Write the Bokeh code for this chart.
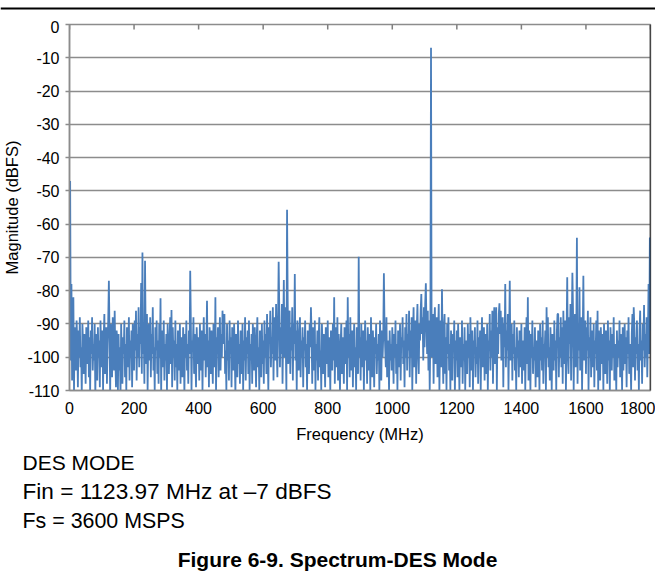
from math import pi
from bokeh.plotting import figure
from bokeh.layouts import column
from bokeh.models import (Range1d, FixedTicker, Span, ColumnDataSource, PrintfTickFormatter)
from bokeh.core.properties import value
from bokeh.embed import file_html
from bokeh.resources import INLINE

# ---------------- data ----------------
bin_step_mhz = 2  # spacing of the plotted FFT bins

# noise floor, 0 .. 448 MHz
noise_a = [
    -96, -84, -101, -90, -107, -93, -99, -110, -91, -98, -104, -89, -95, -109, -92, -100, -88, -103, -97, -111, -90, -96, -105, -93, -99,
    -108, -91, -97, -102, -89, -106, -94, -110, -92, -99, -88, -104, -96, -101, -90, -112, -93, -98, -107, -91, -100, -95, -109, -89, -97,
    -103, -92, -110, -94, -87, -105, -98, -91, -108, -96, -89, -102, -93, -111, -90, -99, -106, -88, -97, -104, -86, -100, -109, -92, -95,
    -110, -93, -104, -97, -112, -90, -101, -108, -94, -99, -89, -106, -96, -110, -91, -103, -98, -88, -107, -95, -100, -92, -109, -90, -97,
    -104, -89, -98, -86, -107, -93, -100, -85, -103, -91, -96, -84, -105, -88, -99, -92, -108, -86, -94, -102, -87, -110, -95, -90, -101,
    -88, -106, -93, -99, -85, -104, -97, -110, -91, -98, -89, -105, -95, -108, -90, -100, -94, -111, -92, -97, -103, -89, -107, -96, -101,
    -93, -110, -90, -99, -105, -94, -88, -102, -97, -109, -91, -100, -95, -107, -89, -103, -96, -110, -92, -98, -104, -90, -108, -94, -99,
    -106, -91, -97, -111, -93, -100, -89, -104, -96, -108, -92, -99, -103, -90, -110, -95, -98, -88, -105, -93, -101, -109, -91, -97, -102,
    -94, -107, -90, -99, -104, -92, -110, -96, -88, -101, -93, -106, -97, -89, -103, -95, -109, -91, -98, -105, -92, -100, -108, -90, -96,
]
# noise floor, 450 .. 898 MHz
noise_b = [
    -103, -89, -110, -94, -99, -91, -106, -97, -88, -104, -93, -100, -108, -92, -96, -87, -105, -98, -110, -90, -101, -95, -107, -89, -99,
    -94, -109, -91, -97, -104, -90, -100, -111, -93, -98, -106, -89, -102, -96, -108, -92, -99, -105, -90, -110, -95, -101, -88, -107, -94,
    -99, -92, -105, -89, -110, -96, -101, -93, -108, -90, -97, -104, -91, -100, -109, -94, -88, -103, -97, -110, -92, -99, -106, -90, -102,
    -95, -108, -89, -100, -93, -105, -87, -98, -110, -91, -96, -86, -103, -94, -99, -85, -107, -92, -88, -101, -84, -97, -106, -90, -95,
    -86, -103, -91, -99, -84, -108, -93, -87, -100, -85, -96, -110, -89, -83, -102, -94, -86, -105, -91, -98, -85, -107, -90, -96, -88,
    -101, -92, -110, -89, -97, -104, -93, -88, -106, -95, -100, -91, -109, -94, -98, -89, -103, -96, -110, -92, -99, -105, -90, -97, -102,
    -93, -108, -91, -99, -104, -89, -110, -96, -101, -92, -107, -94, -88, -103, -98, -110, -90, -97, -105, -93, -100, -109, -91, -96, -102,
    -89, -106, -94, -99, -110, -92, -97, -104, -90, -101, -95, -108, -91, -98, -103, -88, -107, -93, -100, -110, -96, -90, -105, -94, -99,
    -108, -91, -97, -102, -89, -110, -95, -100, -93, -106, -88, -99, -104, -92, -109, -96, -90, -103, -97, -110, -91, -98, -105, -87, -100,
]
# noise floor, 900 .. 1348 MHz
noise_c = [
    -94, -107, -90, -99, -103, -92, -110, -96, -89, -101, -95, -108, -91, -98, -104, -93, -110, -88, -97, -106, -92, -100, -109, -94, -99,
    -90, -105, -96, -101, -93, -110, -89, -98, -107, -92, -100, -94, -109, -91, -97, -103, -88, -106, -95, -99, -110, -92, -101, -96, -104,
    -91, -98, -108, -93, -100, -89, -105, -96, -110, -92, -99, -103, -90, -107, -94, -97, -88, -102, -95, -109, -91, -100, -87, -104, -93,
    -98, -86, -106, -92, -100, -88, -110, -94, -85, -103, -96, -89, -108, -91, -84, -99, -105, -90, -95, -86, -110, -93, -88, -101, -85,
    -97, -84, -107, -91, -99, -86, -104, -89, -110, -93, -83, -100, -95, -87, -108, -90, -85, -102, -94, -88, -106, -92, -84, -110, -96,
    -89, -103, -86, -98, -108, -91, -87, -105, -94, -110, -90, -99, -88, -104, -96, -110, -92, -100, -107, -93, -98, -89, -111, -95, -101,
    -92, -106, -90, -99, -110, -94, -97, -103, -89, -108, -96, -101, -91, -110, -95, -98, -105, -90, -100, -93, -109, -88, -97, -104, -92,
    -110, -95, -99, -91, -106, -97, -102, -89, -108, -94, -100, -92, -110, -96, -88, -103, -98, -91, -107, -93, -99, -105, -90, -110, -95,
    -98, -87, -104, -92, -100, -86, -108, -94, -89, -102, -96, -85, -110, -91, -99, -87, -105, -93, -86, -101, -95, -88, -109, -90, -97,
]
# noise floor, 1350 .. 1800 MHz
noise_d = [
    -85, -103, -92, -98, -87, -110, -94, -88, -101, -96, -90, -107, -93, -99, -89, -104, -97, -110, -91, -100, -95, -106, -92, -98, -103,
    -90, -108, -95, -99, -104, -91, -110, -96, -88, -102, -94, -107, -92, -98, -110, -93, -100, -89, -105, -97, -101, -91, -109, -95, -99,
    -106, -92, -97, -110, -90, -101, -94, -104, -89, -108, -96, -99, -92, -110, -95, -100, -88, -103, -97, -107, -91, -99, -110, -93, -98,
    -104, -89, -101, -95, -110, -92, -98, -87, -106, -94, -100, -88, -103, -91, -108, -86, -97, -102, -89, -110, -93, -85, -99, -105, -88,
    -96, -84, -107, -91, -99, -86, -110, -93, -87, -103, -95, -85, -108, -90, -98, -86, -104, -92, -88, -110, -94, -87, -101, -96, -89,
    -105, -91, -98, -86, -110, -94, -100, -88, -106, -92, -97, -103, -90, -109, -95, -99, -89, -104, -96, -110, -92, -100, -107, -91, -97,
    -102, -93, -110, -90, -99, -105, -92, -97, -108, -89, -101, -95, -110, -91, -98, -104, -93, -100, -88, -107, -96, -99, -110, -92, -103,
    -95, -100, -89, -106, -93, -98, -110, -91, -104, -97, -90, -102, -94, -109, -92, -99, -88, -105, -96, -101, -110, -93, -87, -103, -97,
    -91, -107, -94, -99, -89, -104, -96, -110, -92, -86, -101, -95, -108, -90, -98, -87, -103, -93, -100, -88, -106, -94, -85, -99, -90,
    -92,
]

# discrete spurs / tones (MHz, dBFS)
spur_freq = [2, 6, 12, 122, 222, 226, 234, 282, 316, 374, 426, 452, 474,
             648, 664, 674, 698, 748, 820, 862, 896, 974, 1090, 1104, 1120,
             1154, 1316, 1332, 1350, 1364, 1420, 1478, 1512, 1542, 1558,
             1572, 1580, 1592, 1636, 1748, 1780, 1794, 1798]
spur_mag = [-47, -78, -82, -77, -77.7, -68.5, -71, -82.3, -85.8, -74, -83, -82, -86,
            -71.3, -76.8, -55.7, -75, -85, -82, -82, -69.8, -74.8, -81, -77.8, -7,
            -79.6, -85, -83.8, -78, -77, -82, -85, -87, -76, -74.6,
            -64.1, -79, -75.5, -86, -85, -84.3, -78, -64]

x_ticks = [0, 200, 400, 600, 800, 1000, 1200, 1400, 1600, 1800]
y_ticks = [0, -10, -20, -30, -40, -50, -60, -70, -80, -90, -100, -110]

notes = ["DES MODE", "Fin = 1123.97 MHz at \u20137 dBFS", "Fs = 3600 MSPS"]
caption = "Figure 6-9. Spectrum-DES Mode"

# ---------------- build series ----------------
mag = noise_a + noise_b + noise_c + noise_d
freq = [i * bin_step_mhz for i in range(len(mag))]
for f, m in zip(spur_freq, spur_mag):
    idx = int(round(f / bin_step_mhz))
    if 0 <= idx < len(mag):
        mag[idx] = m
src = ColumnDataSource(data=dict(freq=freq, mag=mag))

FONT = "Liberation Sans"
GRID = "#8c8c8c"
BLUE = "#4a7ebb"
W = 655


def blank(height, y_top_down):
    f = figure(width=W, height=height, x_range=Range1d(0, W), y_range=Range1d(y_top_down, 0),
               output_backend="svg", toolbar_location=None,
               x_axis_location=None, y_axis_location=None,
               min_border_left=0, min_border_right=0, min_border_top=0, min_border_bottom=0)
    f.frame_align = False
    f.grid.visible = False
    f.outline_line_color = None
    f.background_fill_color = "white"
    f.border_fill_color = "white"
    return f


# ---- header with the page rule ----
head = blank(20, 20)
head.add_layout(Span(location=8, dimension="width", line_color="black", line_width=2))

# ---- main chart ----
p = figure(width=W, height=430, x_range=Range1d(0, 1800), y_range=Range1d(-110, 0),
           output_backend="svg", toolbar_location=None,
           min_border_left=68, min_border_right=5, min_border_top=4, min_border_bottom=60)
p.frame_align = False
p.background_fill_color = "white"
p.border_fill_color = "white"
p.outline_line_color = GRID
p.outline_line_width = 1.5

p.line("freq", "mag", source=src, line_color=BLUE, line_width=1.8)

# grid
p.xgrid.grid_line_color = None
p.ygrid.ticker = FixedTicker(ticks=y_ticks)
p.ygrid.grid_line_color = GRID
p.ygrid.grid_line_width = 1.5

# bottom axis
bx = p.xaxis[0]
bx.ticker = FixedTicker(ticks=x_ticks)
bx.major_tick_in = 0
bx.major_tick_out = 0
bx.minor_tick_line_color = None
bx.axis_line_color = GRID
bx.axis_line_width = 1.5
bx.major_label_text_font = FONT
bx.major_label_text_font_size = "16px"
bx.major_label_text_color = "black"
bx.major_label_standoff = 11
bx.axis_label = "Frequency (MHz)"
bx.axis_label_text_font = FONT
bx.axis_label_text_font_size = "16.5px"
bx.axis_label_text_font_style = "normal"
bx.axis_label_text_color = "black"
bx.axis_label_standoff = 8

# left axis
ly = p.yaxis[0]
ly.ticker = FixedTicker(ticks=y_ticks)
ly.formatter = PrintfTickFormatter(format="%d")
ly.major_tick_in = 0
ly.major_tick_out = 4
ly.major_tick_line_color = GRID
ly.major_tick_line_width = 1.5
ly.minor_tick_line_color = None
ly.axis_line_color = GRID
ly.axis_line_width = 1.5
ly.major_label_text_font = FONT
ly.major_label_text_font_size = "16px"
ly.major_label_text_color = "black"
ly.major_label_standoff = 6
ly.axis_label = "Magnitude (dBFS)"
ly.axis_label_text_font = FONT
ly.axis_label_text_font_size = "16.5px"
ly.axis_label_text_font_style = "normal"
ly.axis_label_text_color = "black"
ly.axis_label_standoff = 3

# tick marks on the top edge, pointing into the plot (x axis crosses at 0 dBFS)
p.scatter(x=x_ticks, y=[p.y_range.end] * len(x_ticks), marker="dash", size=10, angle=pi / 2,
          line_color="#7f7f7f", line_width=1.5)

# right border
p.add_layout(Span(location=1800, dimension="height", line_color="black", line_width=1.5))

# ---- footer with notes and caption ----
foot = blank(130, 130)
note_src = ColumnDataSource(data=dict(x=[22, 22, 22], y=[12, 41, 70], text=notes,
                                      size=["21px", "22.6px", "21.4px"]))
foot.text(x="x", y="y", text="text", source=note_src,
          text_font=value(FONT), text_font_size="size", text_color="black",
          text_align="left", text_baseline="middle")
foot.text(x=[337], y=[109], text=[caption],
          text_font=value(FONT), text_font_size="21px", text_font_style="bold",
          text_color="black", text_align="center", text_baseline="middle")

layout = column(head, p, foot, spacing=0)

with open("out.html", "w", encoding="utf-8") as fh:
    fh.write(file_html(layout, INLINE))
